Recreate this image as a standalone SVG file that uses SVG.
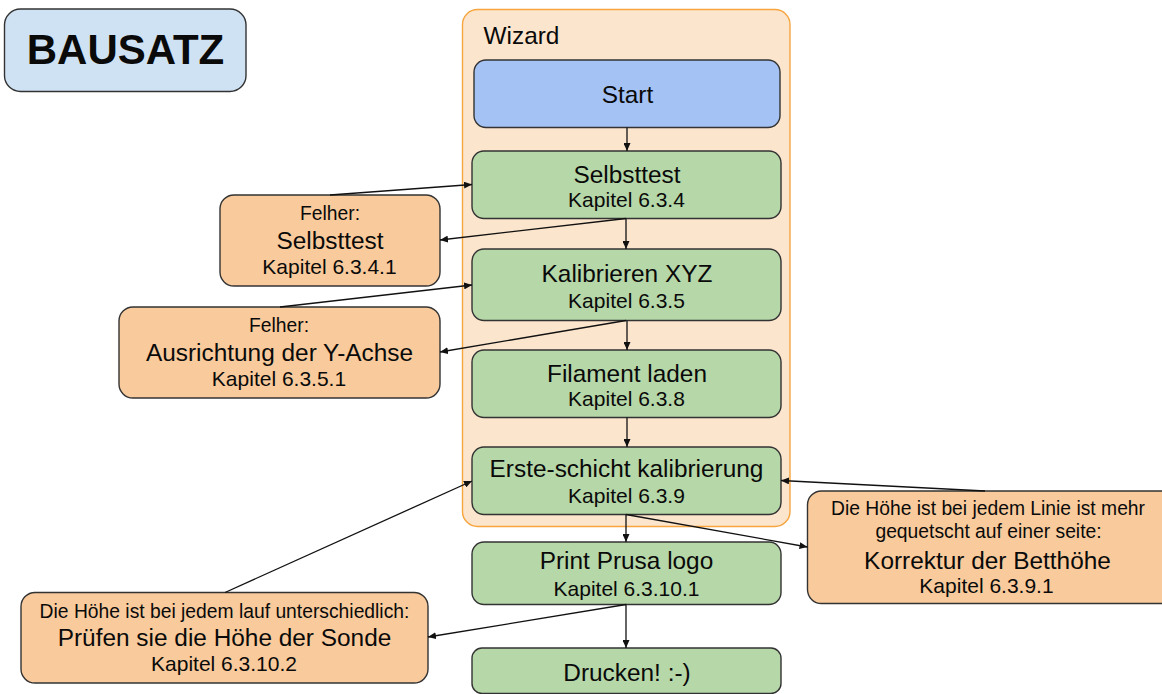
<svg xmlns="http://www.w3.org/2000/svg" width="1162" height="694" viewBox="0 0 1162 694">
<style>
text{font-family:"Liberation Sans",Arial,sans-serif;fill:#0a0a0a;text-anchor:middle}
.b{stroke:#333;stroke-width:1.4}
.g{fill:#b6d7a8}.o{fill:#f9cb9c}
.l{font-size:24.4px}.s{font-size:21px}.f{font-size:19.3px}
.c line{stroke:#111;stroke-width:1.3;marker-end:url(#a)}
</style>
<defs><marker id="a" markerUnits="userSpaceOnUse" markerWidth="8" markerHeight="7" refX="8" refY="3.500" orient="auto"><path d="M0 0L8 3.500L0 7Z" fill="#111"/></marker></defs>
<rect width="1162" height="694" fill="#fff"/>
<g id="wizard"><rect x="462.500" y="9.500" width="327.500" height="517" rx="15" fill="#fce5cd" stroke="#f6a53f" stroke-width="1.4"/><text class="l" x="521.500" y="44">Wizard</text></g>
<g id="bausatz"><rect class="b" x="4.500" y="9" width="241.500" height="82.500" rx="16" fill="#cfe2f3"/><text x="125.500" y="64" style="font-size:42px;font-weight:bold">BAUSATZ</text></g>
<g id="start"><rect class="b" x="474" y="60" width="306" height="67.500" rx="12" fill="#a4c2f4"/><text class="l" x="627.500" y="103">Start</text></g>
<g id="selbsttest"><rect class="b g" x="472" y="151" width="309" height="67.500" rx="12"/><text class="l" x="627" y="183">Selbsttest</text><text class="s" x="626.500" y="207">Kapitel 6.3.4</text></g>
<g id="kalibrieren"><rect class="b g" x="472" y="249" width="309" height="71.500" rx="12"/><text class="l" x="627" y="282">Kalibrieren XYZ</text><text class="s" x="626.500" y="308">Kapitel 6.3.5</text></g>
<g id="filament"><rect class="b g" x="472" y="350" width="309" height="67.500" rx="12"/><text class="l" x="627" y="381.500">Filament laden</text><text class="s" x="626.500" y="406">Kapitel 6.3.8</text></g>
<g id="erste"><rect class="b g" x="472" y="447" width="309" height="67.500" rx="12"/><text class="l" x="626.500" y="477">Erste-schicht kalibrierung</text><text class="s" x="626.500" y="503">Kapitel 6.3.9</text></g>
<g id="print"><rect class="b g" x="472" y="542" width="309" height="62.500" rx="12"/><text class="l" x="626.500" y="569">Print Prusa logo</text><text class="s" x="626.500" y="596">Kapitel 6.3.10.1</text></g>
<g id="drucken"><rect class="b g" x="472" y="648" width="309" height="45.500" rx="10"/><text class="l" x="627" y="681">Drucken! :-)</text></g>
<g id="fehler-selbsttest"><rect class="b o" x="220" y="195" width="220" height="91" rx="14"/><text class="f" x="330" y="220">Felher:</text><text class="l" x="330" y="249">Selbsttest</text><text class="s" x="329.500" y="274">Kapitel 6.3.4.1</text></g>
<g id="fehler-achse"><rect class="b o" x="119" y="307" width="321" height="91" rx="14"/><text class="f" x="279" y="332">Felher:</text><text class="l" x="279.500" y="361">Ausrichtung der Y-Achse</text><text class="s" x="279" y="386">Kapitel 6.3.5.1</text></g>
<g id="sonde"><rect class="b o" x="21" y="592.500" width="407" height="90.500" rx="14"/><text class="f" x="224.500" y="618">Die Höhe ist bei jedem lauf unterschiedlich:</text><text class="l" x="224.500" y="646">Prüfen sie die Höhe der Sonde</text><text class="s" x="224" y="671">Kapitel 6.3.10.2</text></g>
<g id="betthoehe"><rect class="b o" x="807.500" y="491" width="370" height="112.500" rx="14"/><text class="f" x="988" y="515">Die Höhe ist bei jedem Linie ist mehr</text><text class="f" x="988.500" y="538">gequetscht auf einer seite:</text><text class="l" x="987.500" y="569">Korrektur der Betthöhe</text><text class="s" x="986.500" y="593">Kapitel 6.3.9.1</text></g>
<g id="connectors" class="c">
<line x1="627" y1="127.500" x2="627" y2="151"/>
<line x1="626" y1="218.500" x2="626" y2="249"/>
<line x1="627" y1="320.500" x2="627" y2="350"/>
<line x1="627" y1="417.500" x2="627" y2="447"/>
<line x1="626" y1="514.500" x2="626" y2="542"/>
<line x1="626" y1="604.500" x2="626" y2="648"/>
<line x1="330" y1="195" x2="472" y2="184.500"/>
<line x1="626" y1="218.500" x2="440" y2="240"/>
<line x1="280" y1="307" x2="472" y2="285"/>
<line x1="626" y1="320.500" x2="440" y2="352"/>
<line x1="225" y1="592.500" x2="472" y2="481"/>
<line x1="626" y1="604.500" x2="428" y2="637"/>
<line x1="626" y1="514.500" x2="807.500" y2="547"/>
<line x1="985" y1="491" x2="781" y2="480.500"/>
</g>
</svg>
